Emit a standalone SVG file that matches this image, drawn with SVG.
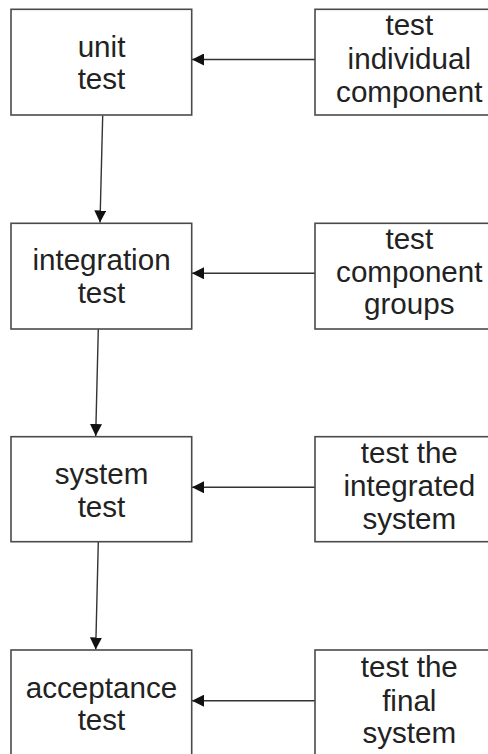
<svg xmlns="http://www.w3.org/2000/svg" width="488" height="754" viewBox="0 0 488 754">
<defs>
<style>
.box{fill:#fff;stroke:#4a4a4a;stroke-width:1.6}
.t{font-family:"Liberation Sans",Arial,sans-serif;font-size:29.6px;fill:#222;text-anchor:middle}
.c{stroke:#333;stroke-width:1.4;fill:none}
</style>
<marker id="ah" viewBox="0 0 12 12" refX="12" refY="6" markerWidth="12" markerHeight="12" markerUnits="userSpaceOnUse" orient="auto">
<path d="M0,0 L12,6 L0,12 Z" fill="#111"/>
</marker>
</defs>
<rect width="488" height="754" fill="#fff"/>
<g id="connectors">
<line class="c" x1="102.7" y1="115.5" x2="100" y2="222.5" marker-end="url(#ah)"/>
<line class="c" x1="98.3" y1="329" x2="95.7" y2="436" marker-end="url(#ah)"/>
<line class="c" x1="98.3" y1="542" x2="95.7" y2="649.5" marker-end="url(#ah)"/>
<line class="c" x1="315" y1="59.5" x2="192" y2="59.5" marker-end="url(#ah)"/>
<line class="c" x1="315" y1="273.3" x2="192" y2="273.3" marker-end="url(#ah)"/>
<line class="c" x1="315" y1="487.3" x2="192" y2="487.3" marker-end="url(#ah)"/>
<line class="c" x1="315" y1="700.7" x2="192" y2="700.7" marker-end="url(#ah)"/>
</g>
<g id="unit-test">
<rect class="box" x="11" y="9.3" width="180.7" height="105.7"/>
<text class="t" x="101.5" y="57">unit</text>
<text class="t" x="101.5" y="89">test</text>
</g>
<g id="test-individual-component">
<rect class="box" x="315" y="9.3" width="190" height="105.7"/>
<text class="t" x="409.3" y="35">test</text>
<text class="t" x="409.3" y="68.5">individual</text>
<text class="t" x="409.3" y="102">component</text>
</g>
<g id="integration-test">
<rect class="box" x="11" y="223.3" width="180.7" height="105.7"/>
<text class="t" x="101.5" y="270">integration</text>
<text class="t" x="101.5" y="302.5">test</text>
</g>
<g id="test-component-groups">
<rect class="box" x="315" y="223.3" width="190" height="105.7"/>
<text class="t" x="409.3" y="249">test</text>
<text class="t" x="409.3" y="282">component</text>
<text class="t" x="409.3" y="314">groups</text>
</g>
<g id="system-test">
<rect class="box" x="11" y="436.7" width="180.7" height="105"/>
<text class="t" x="101.5" y="484">system</text>
<text class="t" x="101.5" y="516.5">test</text>
</g>
<g id="test-the-integrated-system">
<rect class="box" x="315" y="436.7" width="190" height="105"/>
<text class="t" x="409.3" y="463">test the</text>
<text class="t" x="409.3" y="496">integrated</text>
<text class="t" x="409.3" y="529">system</text>
</g>
<g id="acceptance-test">
<rect class="box" x="11" y="650" width="180.7" height="110"/>
<text class="t" x="101.5" y="697.5">acceptance</text>
<text class="t" x="101.5" y="730">test</text>
</g>
<g id="test-the-final-system">
<rect class="box" x="315" y="650" width="190" height="110"/>
<text class="t" x="409.3" y="677">test the</text>
<text class="t" x="409.3" y="710.5">final</text>
<text class="t" x="409.3" y="743">system</text>
</g>
</svg>
